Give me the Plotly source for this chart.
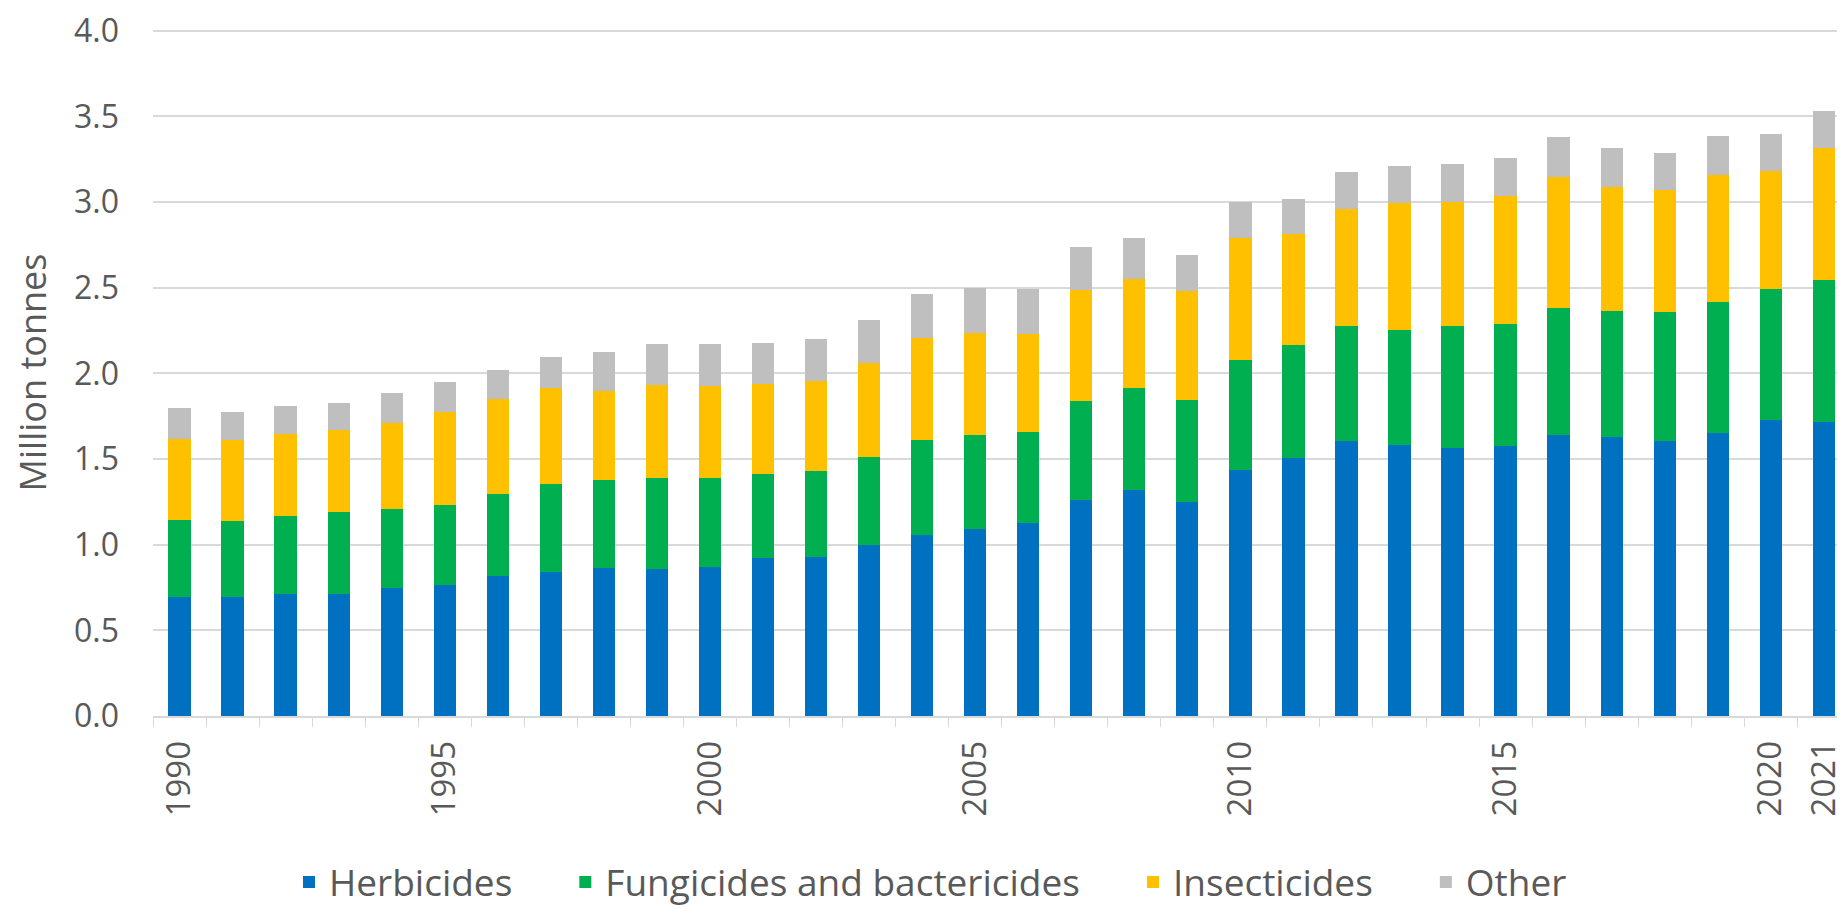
import plotly.graph_objects as go

years = list(range(1990, 2022))

herbicides = [0.695, 0.695, 0.711, 0.711, 0.745, 0.765, 0.817, 0.842, 0.865, 0.859,
              0.871, 0.923, 0.927, 1.000, 1.058, 1.093, 1.126, 1.261, 1.322, 1.250,
              1.436, 1.508, 1.605, 1.581, 1.564, 1.574, 1.643, 1.628, 1.603, 1.653,
              1.725, 1.719]
fungicides = [0.450, 0.445, 0.454, 0.479, 0.464, 0.467, 0.477, 0.510, 0.512, 0.528,
              0.519, 0.492, 0.502, 0.512, 0.551, 0.548, 0.531, 0.580, 0.595, 0.592,
              0.640, 0.655, 0.671, 0.670, 0.712, 0.713, 0.736, 0.734, 0.753, 0.761,
              0.768, 0.826]
insecticides = [0.470, 0.469, 0.482, 0.477, 0.502, 0.541, 0.556, 0.560, 0.521, 0.544,
                0.537, 0.522, 0.527, 0.547, 0.598, 0.595, 0.575, 0.646, 0.634, 0.637,
                0.713, 0.650, 0.682, 0.744, 0.724, 0.749, 0.765, 0.724, 0.715, 0.746,
                0.686, 0.769]
other = [0.181, 0.168, 0.161, 0.160, 0.172, 0.178, 0.170, 0.185, 0.226, 0.242,
         0.246, 0.241, 0.247, 0.251, 0.257, 0.261, 0.259, 0.252, 0.242, 0.213,
         0.210, 0.207, 0.217, 0.213, 0.222, 0.221, 0.237, 0.232, 0.218, 0.226,
         0.220, 0.220]

tick_years = [1990, 1995, 2000, 2005, 2010, 2015, 2020, 2021]
y_ticks = [0.0, 0.5, 1.0, 1.5, 2.0, 2.5, 3.0, 3.5, 4.0]

series_names = ["Herbicides", "Fungicides and bactericides", "Insecticides", "Other"]
series_values = [herbicides, fungicides, insecticides, other]
series_colors = ["#0070C0", "#00B050", "#FFC000", "#BFBFBF"]

FONT = "Open Sans"
TXT = "#595959"
GAP = "\u00a0" * 5

fig = go.Figure()
for i, (name, vals, col) in enumerate(zip(series_names, series_values, series_colors)):
    label = name + (GAP if i < len(series_names) - 1 else "")
    fig.add_trace(go.Bar(x=years, y=vals, name=label, marker=dict(color=col, line=dict(width=0))))

fig.update_layout(
    width=1845, height=907,
    barmode="stack", bargap=0.58,
    plot_bgcolor="white", paper_bgcolor="white",
    margin=dict(l=145, r=0, t=14.5, b=199),
    font=dict(family=FONT, color=TXT, size=32),
    legend=dict(orientation="h", xref="container", yref="container",
                x=0.5, xanchor="center", y=0.036, yanchor="middle",
                font=dict(size=37, color=TXT, family=FONT),
                traceorder="normal", itemwidth=30),
)
fig.update_xaxes(
    range=[1989.5, 2021.55],
    tickmode="array", tickvals=tick_years, ticktext=[str(y) for y in tick_years],
    tickangle=-90, ticks="", ticklabelstandoff=10, ticklabeloverflow="allow",
    tickfont=dict(size=33, color=TXT, family=FONT),
    showgrid=False, showline=True, linecolor="#D9D9D9", linewidth=1.5,
    minor=dict(ticks="outside", tick0=1989.5, dtick=1, ticklen=9, tickcolor="#D9D9D9", showgrid=False),
    zeroline=False,
)
fig.update_yaxes(
    range=[0, 4.01], tickmode="array", tickvals=y_ticks,
    ticktext=[f"{v:.1f}" for v in y_ticks],
    showgrid=True, gridcolor="#D9D9D9", gridwidth=1.5,
    zeroline=False, ticks="", ticklabelstandoff=33, ticklabeloverflow="allow",
    tickfont=dict(size=32, color=TXT, family=FONT),
    title=dict(text="Million tonnes", font=dict(size=36, color=TXT, family=FONT), standoff=21),
)

fig.write_html("out.html")
